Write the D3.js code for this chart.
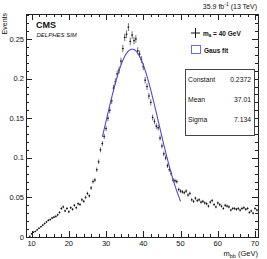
<!DOCTYPE html>
<html>
<head>
<meta charset="utf-8">
<script src="https://cdn.jsdelivr.net/npm/d3@7"></script>
<style>
  body { margin: 0; background: #fff; }
  text { font-family: "Liberation Sans", Arial, sans-serif; fill: #111; }
</style>
</head>
<body>
<div id="chart"></div>
<script>
// histogram binning: 0.5 GeV bins, centres from 9.5 to 70.5
const binWidth = 0.5;
const binCenters = d3.range(9.5, 70.75, binWidth);
const events = [
  0.001, 0.004, 0.006, 0.007, 0.009, 0.011, 0.013, 0.015, 0.017, 0.019,
  0.021, 0.022, 0.024, 0.025, 0.026, 0.028, 0.031, 0.036, 0.038, 0.033,
  0.036, 0.032, 0.037, 0.035, 0.040, 0.037, 0.042, 0.041, 0.047, 0.045,
  0.050, 0.055, 0.052, 0.062, 0.070, 0.072, 0.085, 0.095, 0.110, 0.118,
  0.127, 0.137, 0.150, 0.160, 0.172, 0.188, 0.196, 0.206, 0.211, 0.222,
  0.238, 0.252, 0.256, 0.265, 0.247, 0.255, 0.248, 0.250, 0.235, 0.231,
  0.224, 0.215, 0.198, 0.190, 0.178, 0.170, 0.151, 0.146, 0.140, 0.138,
  0.125, 0.115, 0.105, 0.100, 0.090, 0.085, 0.080, 0.072, 0.071, 0.070,
  0.060, 0.058, 0.057, 0.056, 0.058, 0.053, 0.055, 0.047, 0.045, 0.049,
  0.046, 0.047, 0.044, 0.045, 0.043, 0.042, 0.039, 0.044, 0.046, 0.041,
  0.038, 0.043, 0.041, 0.039, 0.036, 0.040, 0.039, 0.038, 0.034, 0.036,
  0.036, 0.035, 0.036, 0.034, 0.036, 0.037, 0.035, 0.036, 0.031, 0.033,
  0.030, 0.036, 0.034
];

// gaussian fit result
const fitConstant = 0.2372, fitMean = 37.01, fitSigma = 7.134;
const fitRange = [29, 50];
const statLabels = ["Constant", "Mean", "Sigma"];
const statValues = ["0.2372", "37.01", "7.134"];

const xTicks = [10, 20, 30, 40, 50, 60, 70];
const yTicks = [0, 0.05, 0.1, 0.15, 0.2, 0.25];
const yTickLabels = ["0", "0.05", "0.1", "0.15", "0.2", "0.25"];

const W = 267, H = 259;
const frame = { left: 26, right: 258, top: 14, bottom: 237 };

const svg = d3.select("#chart").append("svg")
  .attr("width", W).attr("height", H);

const x = d3.scaleLinear().domain([8.5, 70.8]).range([frame.left, frame.right]);
const y = d3.scaleLinear().domain([0, 0.2816]).range([frame.bottom, frame.top]);

// ticks on all four sides, pointing inward (ROOT style)
const xMinor = d3.range(10, 71, 2);
const yMinor = d3.range(0, 0.2801, 0.01);
const ticks = svg.append("g").attr("stroke", "#222").attr("stroke-width", 1);
xMinor.forEach(v => {
  const len = xTicks.includes(v) ? 6 : 3;
  const px = Math.round(x(v)) + 0.5;
  ticks.append("line").attr("x1", px).attr("x2", px).attr("y1", frame.bottom).attr("y2", frame.bottom - len);
  ticks.append("line").attr("x1", px).attr("x2", px).attr("y1", frame.top).attr("y2", frame.top + len);
});
yMinor.forEach((v, i) => {
  const len = i % 5 === 0 ? 6 : 3;
  const py = Math.round(y(v)) + 0.5;
  ticks.append("line").attr("x1", frame.left).attr("x2", frame.left + len).attr("y1", py).attr("y2", py);
  ticks.append("line").attr("x1", frame.right).attr("x2", frame.right - len).attr("y1", py).attr("y2", py);
});

svg.append("rect")
  .attr("x", frame.left + 0.5).attr("y", frame.top + 0.5)
  .attr("width", frame.right - frame.left).attr("height", frame.bottom - frame.top)
  .attr("fill", "none").attr("stroke", "#222");

// tick labels
svg.append("g").selectAll("text").data(xTicks).join("text")
  .attr("x", d => x(d)).attr("y", 246)
  .attr("text-anchor", "middle").attr("font-size", 7.5)
  .text(d => d);
svg.append("g").selectAll("text").data(yTicks).join("text")
  .attr("x", 24).attr("y", d => y(d) + 2.6)
  .attr("text-anchor", "end").attr("font-size", 7.5)
  .text((d, i) => yTickLabels[i]);

// axis titles
const xt = svg.append("text").attr("x", 258).attr("y", 256)
  .attr("text-anchor", "end").attr("font-size", 7.5);
xt.append("tspan").text("m");
xt.append("tspan").attr("font-size", 5.5).attr("dy", 1.5).text("bb");
xt.append("tspan").attr("dy", -1.5).text(" (GeV)");

svg.append("text")
  .attr("transform", "translate(7,13) rotate(-90)")
  .attr("text-anchor", "end").attr("font-size", 7)
  .text("Events");

// data points with error bars
const err = v => 0.0095 * Math.sqrt(v);
const pts = svg.append("g").attr("stroke", "#333").attr("stroke-width", 0.7);
binCenters.forEach((c, i) => {
  const v = events[i];
  pts.append("line")
    .attr("x1", x(c)).attr("x2", x(c))
    .attr("y1", y(v - err(v))).attr("y2", y(v + err(v)));
  pts.append("line")
    .attr("x1", x(c - binWidth / 2)).attr("x2", x(c + binWidth / 2))
    .attr("y1", y(v)).attr("y2", y(v));
});
svg.append("g").selectAll("rect").data(binCenters).join("rect")
  .attr("x", d => x(d) - 0.6).attr("y", (d, i) => y(events[i]) - 0.6)
  .attr("width", 1.2).attr("height", 1.2).attr("fill", "#111");

// gaussian fit curve
const gaus = m => fitConstant * Math.exp(-0.5 * Math.pow((m - fitMean) / fitSigma, 2));
const curveX = d3.range(fitRange[0], fitRange[1] + 0.001, 0.1);
svg.append("path")
  .datum(curveX)
  .attr("fill", "none").attr("stroke", "#5a46dc").attr("stroke-width", 1.1)
  .attr("d", d3.line().x(d => x(d)).y(d => y(gaus(d))));

// header texts
svg.append("text").attr("x", 257).attr("y", 9)
  .attr("text-anchor", "end").attr("font-size", 7)
  .call(t => {
    t.append("tspan").text("35.9 fb");
    t.append("tspan").attr("font-size", 5).attr("dy", -3).text("-1");
    t.append("tspan").attr("dy", 3).text(" (13 TeV)");
  });
svg.append("text").attr("x", 36).attr("y", 28)
  .attr("font-size", 9).attr("font-weight", "bold").text("CMS");
svg.append("text").attr("x", 36.5).attr("y", 37)
  .attr("font-size", 6).attr("font-style", "italic").text("DELPHES SIM");

// legend
const leg = svg.append("g");
leg.append("line").attr("x1", 191).attr("x2", 200).attr("y1", 33).attr("y2", 33).attr("stroke", "#111");
leg.append("line").attr("x1", 195.5).attr("x2", 195.5).attr("y1", 28).attr("y2", 38).attr("stroke", "#111");
const lt = leg.append("text").attr("x", 203).attr("y", 35.5)
  .attr("font-size", 6.5).attr("font-weight", "bold");
lt.append("tspan").text("m");
lt.append("tspan").attr("font-size", 4.5).attr("dy", 1.5).text("a");
lt.append("tspan").attr("dy", -1.5).text(" = 40 GeV");
leg.append("rect").attr("x", 191.5).attr("y", 45.5).attr("width", 9).attr("height", 8)
  .attr("fill", "none").attr("stroke", "#6f66f2");
leg.append("text").attr("x", 204).attr("y", 52.5)
  .attr("font-size", 6.5).attr("font-weight", "bold").text("Gaus fit");

// stats box
const sb = svg.append("g");
sb.append("rect").attr("x", 185.5).attr("y", 69.5).attr("width", 69).attr("height", 66)
  .attr("fill", "#fff").attr("stroke", "#444");
statLabels.forEach((l, i) => {
  sb.append("text").attr("x", 188).attr("y", 82 + i * 20).attr("font-size", 6.8).text(l);
  sb.append("text").attr("x", 251).attr("y", 82 + i * 20).attr("font-size", 6.8)
    .attr("text-anchor", "end").text(statValues[i]);
});
</script>
</body>
</html>
